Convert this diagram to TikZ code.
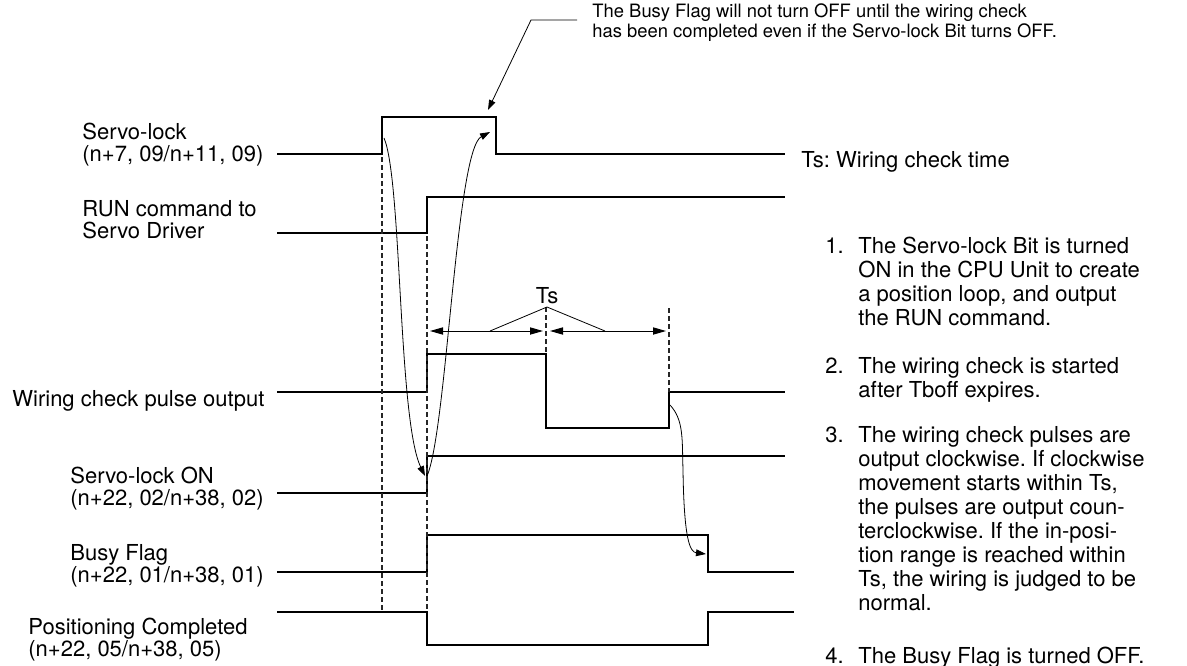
\documentclass[tikz,border=0pt]{standalone}
\usepackage{fontspec}
\setmainfont{TeX Gyre Heros}
\usetikzlibrary{arrows.meta}

\tikzset{
  sig/.style={line width=1pt},
  guide/.style={black!85, line width=0.6pt, dash pattern=on 2.5pt off 1.5pt},
  flow/.style={line width=0.4pt, -{Triangle[length=5pt,width=3.4pt]}},
  span/.style={line width=0.5pt, {Triangle[length=6.5pt,width=3.6pt]}-{Triangle[length=6.5pt,width=3.6pt]}},
  lbl/.style={font=\fontsize{11}{11}\selectfont, inner sep=0pt, align=left, anchor=base west},
  item/.style={font=\fontsize{11}{12}\selectfont, inner sep=0pt, align=left, anchor=base west},
  remark/.style={font=\fontsize{9.2}{8.2}\selectfont, inner sep=0pt, align=left, anchor=base west}
}

\begin{document}
\frenchspacing
\begin{tikzpicture}[x=0.5pt, y=-0.5pt]
\useasboundingbox (0,0) rectangle (1187,665);

% signal names (base = last line)
\node [lbl] (lock)   at (82,161)  {Servo-lock\\(n+7, 09/n+11, 09)};
\node [lbl] (run)    at (82,238)  {RUN command to\\Servo Driver};
\node [lbl] (pulse)  at (12,406)  {Wiring check pulse output};
\node [lbl] (lockon) at (70,505)  {Servo-lock ON\\(n+22, 02/n+38, 02)};
\node [lbl] (busy)   at (70,582)  {Busy Flag\\(n+22, 01/n+38, 01)};
\node [lbl] (pos)    at (28,656)  {Positioning Completed\\(n+22, 05/n+38, 05)};

% waveforms
\draw [sig] (277,154) -- (382,154) -- (382,117) -- (496,117) -- (496,154) -- (785,154);
\draw [sig] (277,233) -- (427,233) -- (427,197) -- (785,197);
\draw [sig] (277,392) -- (427,392) -- (427,354) -- (546,354) -- (546,428)
            -- (669,428) -- (669,392) -- (785,392);
\draw [sig] (277,493) -- (427,493) -- (427,456) -- (785,456);
\draw [sig] (277,572) -- (427,572) -- (427,535) -- (708,535) -- (708,572) -- (794,572);
\draw [sig] (277,612) -- (427,612) -- (427,645) -- (708,645) -- (708,612) -- (794,612);

% timing guides
\draw [guide] (382,157) -- (382,612);
\draw [guide] (427,236) -- (427,612);
\draw [guide] (546,307) -- (546,354);
\draw [guide] (669,308) -- (669,392);

% Ts spans
\coordinate (s1a) at (430,331);
\coordinate (s1b) at (543,331);
\coordinate (s2a) at (550,331);
\coordinate (s2b) at (666,331);
\draw [span] (s1a) -- (s1b);
\draw [span] (s2a) -- (s2b);
\node [font=\fontsize{11}{11}\selectfont, inner sep=0pt, anchor=base] (ts) at (547,303) {Ts};
\draw [line width=0.4pt] (490,331) -- (547,307) -- (605,331);

% cause and effect
\coordinate (lockup)   at (384,138);
\coordinate (lockonup) at (425,476);
\coordinate (lockend)  at (490,132);
\coordinate (pulseup)  at (670,405);
\coordinate (busydown) at (706,554);
\draw [flow] (lockup) .. controls (402,180) and (398,420) .. (lockonup);
\draw [flow] (427,476) .. controls (447,430) and (456,150) .. (lockend);
\draw [flow] (pulseup) .. controls (684,420) and (682,440) .. (683,470)
             .. controls (684,540) and (690,552) .. (busydown);

% remark on top
\node [remark] (note) at (592,37) {The Busy Flag will not turn OFF until the wiring check\\has been completed even if the Servo-lock Bit turns OFF.};
\coordinate (foot) at (577,20);
\coordinate (bend) at (531,20);
\coordinate (hold) at (488,110);
\draw [flow] (foot) -- (bend) -- (hold);

\node [lbl] (tsnote) at (801,167) {Ts: Wiring check time};

% steps (base = last line)
\foreach \n/\y in {1/253,2/373,3/442,4/663}
  \node [item] (num\n) at (825,\y) {\n.};
\node [item] (step1) at (858,325) {The Servo-lock Bit is turned\\ON in the CPU Unit to create\\a position loop, and output\\the RUN command.};
\node [item] (step2) at (858,397) {The wiring check is started\\after Tboff expires.};
\node [item] (step3) at (858,610) {The wiring check pulses are\\output clockwise. If clockwise\\movement starts within Ts,\\the pulses are output coun-\\terclockwise. If the in-posi-\\tion range is reached within\\Ts, the wiring is judged to be\\normal.};
\node [item] (step4) at (858,663) {The Busy Flag is turned OFF.};

\end{tikzpicture}
\end{document}
